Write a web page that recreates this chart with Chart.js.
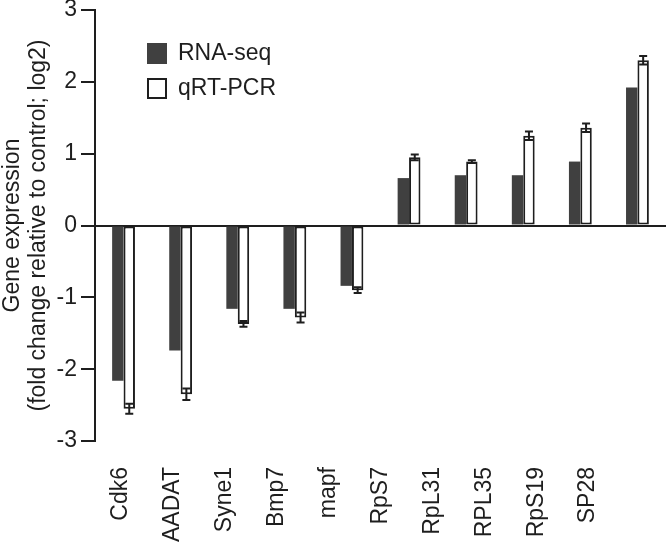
<!DOCTYPE html>
<html>
<head>
<meta charset="utf-8">
<script src="https://cdn.jsdelivr.net/npm/chart.js@4/dist/chart.umd.min.js"></script>
<style>
  html, body { margin: 0; padding: 0; background: #ffffff; }
  canvas { display: block; }
</style>
</head>
<body>
<canvas id="c" width="666" height="542"></canvas>
<script>
// ---- data ----
const genes = ['Cdk6', 'AADAT', 'Syne1', 'Bmp7', 'mapf', 'RpS7', 'RpL31', 'RPL35', 'RpS19', 'SP28'];
const rnaSeq = [-2.16, -1.74, -1.16, -1.16, -0.84, 0.66, 0.70, 0.70, 0.89, 1.92];
const qrtPcr = [-2.55, -2.35, -1.37, -1.28, -0.90, 0.95, 0.89, 1.25, 1.36, 2.30];
const qrtErr = [0.07, 0.08, 0.04, 0.07, 0.04, 0.04, 0.02, 0.06, 0.06, 0.06];
// tick labels along the bottom (the original places them on a slightly narrower pitch)
const xTickLabels = ['Cdk6', 'AADAT', 'Syne1', 'Bmp7', 'mapf', 'RpS7', 'RpL31', 'RPL35', 'RpS19', 'SP28', ''];
const yTicks = [-3, -2, -1, 0, 1, 2, 3];
const seriesNames = ['RNA-seq', 'qRT-PCR'];
const yTitle = ['Gene expression', '(fold change relative to control; log2)'];

const INK = '#1e1e1e';
const DARK = '#404040';
const FONT = 'Liberation Sans, Arial, Helvetica, sans-serif';
const FS = 23;

const errorBars = {
  id: 'errorBars',
  afterDatasetsDraw(chart) {
    const meta = chart.getDatasetMeta(1);
    const ys = chart.scales.y;
    const ctx = chart.ctx;
    ctx.save();
    ctx.strokeStyle = INK;
    ctx.lineWidth = 2;
    meta.data.forEach((el, i) => {
      const v = qrtPcr[i], e = qrtErr[i];
      const yA = ys.getPixelForValue(v + e);
      const yB = ys.getPixelForValue(v - e);
      const x = el.x;
      const cw = 4;
      ctx.beginPath();
      ctx.moveTo(x, yA); ctx.lineTo(x, yB);
      ctx.moveTo(x - cw, yA); ctx.lineTo(x + cw, yA);
      ctx.moveTo(x - cw, yB); ctx.lineTo(x + cw, yB);
      ctx.stroke();
    });
    ctx.restore();
  }
};

const boxLegend = {
  id: 'boxLegend',
  afterDraw(chart) {
    const ctx = chart.ctx;
    ctx.save();
    ctx.font = FS + 'px ' + FONT;
    ctx.textBaseline = 'middle';
    ctx.textAlign = 'left';
    chart.data.datasets.forEach((ds, i) => {
      const top = 43 + i * 35;
      if (i === 0) {
        ctx.fillStyle = ds.backgroundColor;
        ctx.fillRect(147, top, 20, 21);
      } else {
        ctx.fillStyle = '#ffffff';
        ctx.fillRect(147, top, 20, 21);
        ctx.strokeStyle = INK;
        ctx.lineWidth = 2;
        ctx.strokeRect(148, top + 1, 18, 19);
      }
      ctx.fillStyle = INK;
      ctx.fillText(ds.label, 178, top + 11);
    });
    ctx.restore();
  }
};

function noPad(scale) {
  scale.paddingLeft = 0; scale.paddingRight = 0;
  scale.paddingTop = 0; scale.paddingBottom = 0;
}

new Chart(document.getElementById('c'), {
  type: 'bar',
  data: {
    labels: genes,
    datasets: [
      { label: seriesNames[0], data: rnaSeq, backgroundColor: DARK, borderWidth: 0,
        categoryPercentage: 0.4, barPercentage: 1.0 },
      { label: seriesNames[1], data: qrtPcr, backgroundColor: '#ffffff', borderColor: INK,
        borderWidth: 2, borderSkipped: false, categoryPercentage: 0.4, barPercentage: 1.0 }
    ]
  },
  options: {
    responsive: false,
    animation: false,
    layout: { padding: { top: 10, right: 0, left: 0, bottom: 0 } },
    plugins: { legend: { display: false }, tooltip: { enabled: false } },
    scales: {
      x: { display: false, offset: true },
      x2: {
        type: 'category',
        labels: xTickLabels,
        position: 'bottom',
        offset: true,
        grid: { display: false },
        border: { display: false },
        ticks: {
          autoSkip: false, maxRotation: 90, minRotation: 90,
          color: INK, font: { family: FONT, size: FS }, padding: 18
        },
        afterFit(scale) { scale.height = 101; noPad(scale); }
      },
      y: {
        min: -3, max: 3,
        afterBuildTicks(scale) { scale.ticks = yTicks.map(v => ({ value: v })); },
        ticks: { color: INK, font: { family: FONT, size: FS }, padding: 4 },
        grid: {
          drawOnChartArea: true,
          color: (c) => (c.tick && c.tick.value === 0 ? INK : 'rgba(0,0,0,0)'),
          tickColor: INK,
          lineWidth: 2,
          tickLength: 14
        },
        border: { display: true, color: INK, width: 2 },
        title: {
          display: true, text: yTitle, color: INK,
          font: { family: FONT, size: FS, lineHeight: 1.12 }, padding: { top: 0, bottom: 0 }
        },
        afterFit(scale) { scale.width = 95; noPad(scale); }
      }
    }
  },
  plugins: [errorBars, boxLegend]
});
</script>
</body>
</html>
